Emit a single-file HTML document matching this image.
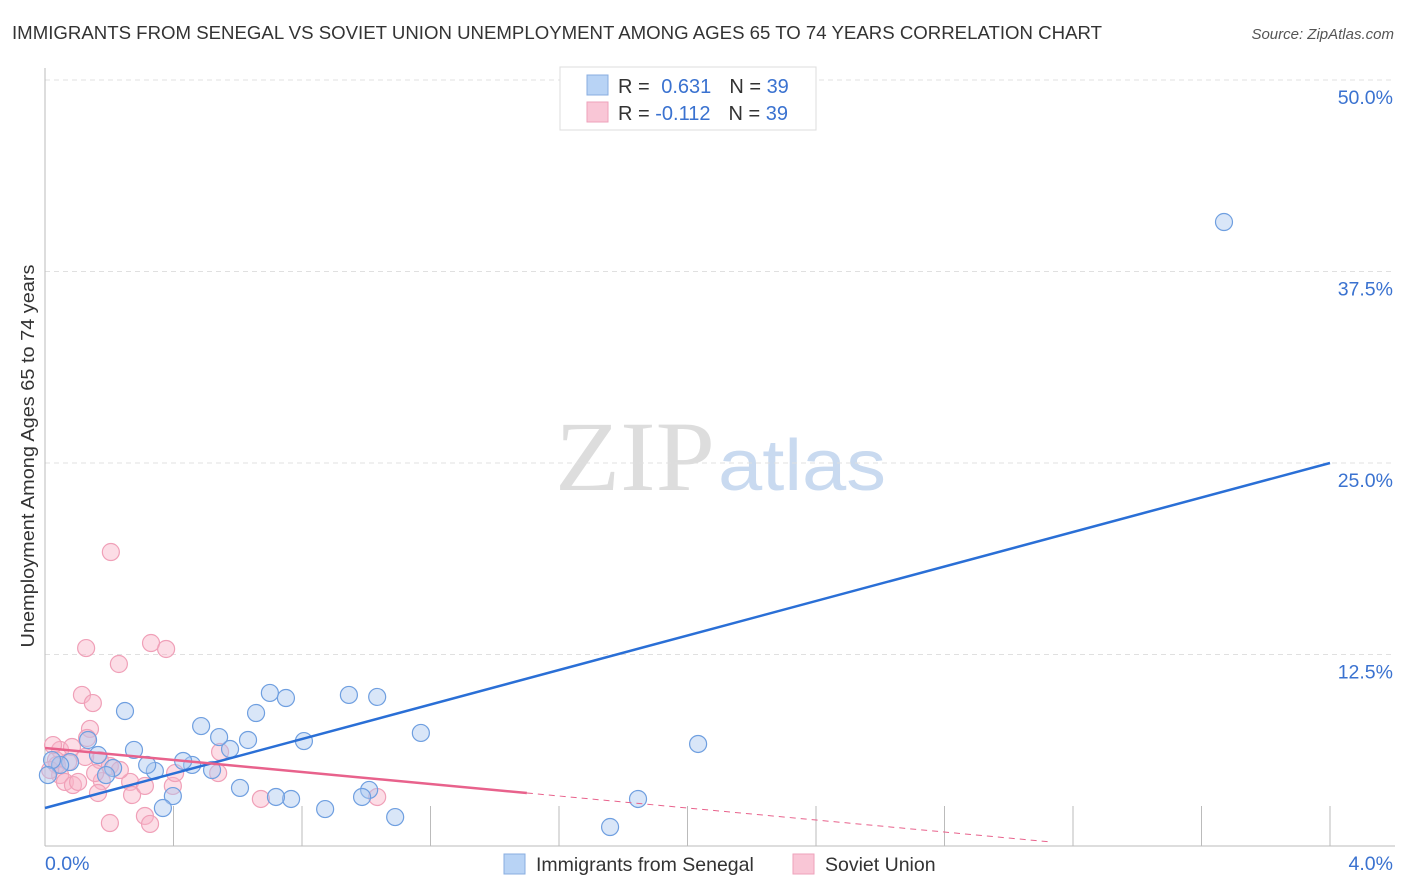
<!DOCTYPE html>
<html><head><meta charset="utf-8"><style>
body{margin:0;background:#fff;font-family:"Liberation Sans",sans-serif;}
svg{display:block}
</style></head><body>
<svg id="chart" width="1406" height="892" xmlns="http://www.w3.org/2000/svg">
<text x="12" y="39" font-size="18" fill="#333" textLength="1090" lengthAdjust="spacingAndGlyphs">IMMIGRANTS FROM SENEGAL VS SOVIET UNION UNEMPLOYMENT AMONG AGES 65 TO 74 YEARS CORRELATION CHART</text>
<text x="1394" y="39" font-size="15" fill="#555" font-style="italic" text-anchor="end">Source: ZipAtlas.com</text>
<text x="555" y="490" font-size="100" font-family="Liberation Serif,serif" fill="#ddd" textLength="160" lengthAdjust="spacingAndGlyphs">ZIP</text>
<text x="718" y="490" font-size="72" fill="#c9daf0" textLength="168" lengthAdjust="spacingAndGlyphs">atlas</text>
<g id="grid"></g><g id="axes"></g><g id="marks"></g>
<text transform="translate(34,456) rotate(-90)" font-size="18" fill="#333" text-anchor="middle" textLength="383" lengthAdjust="spacingAndGlyphs">Unemployment Among Ages 65 to 74 years</text>
<g>
<rect x="560" y="67" width="256" height="63" fill="#fff" stroke="#ddd"/>
<rect x="587" y="75" width="21" height="20" fill="#b8d3f5" stroke="#88aee0"/>
<rect x="587" y="102" width="21" height="20" fill="#f9c6d6" stroke="#eea2bb"/>
<text x="618" y="93" font-size="20" fill="#333">R = <tspan fill="#3a72d0" dx="6">0.631</tspan><tspan dx="18">N = </tspan><tspan fill="#3a72d0">39</tspan></text>
<text x="618" y="120" font-size="20" fill="#333">R = <tspan fill="#3a72d0">-0.112</tspan><tspan dx="18">N = </tspan><tspan fill="#3a72d0">39</tspan></text>
</g>
<g>
<rect x="504" y="854" width="21" height="20" fill="#b8d3f5" stroke="#88aee0"/>
<text x="536" y="871" font-size="19.5" fill="#333">Immigrants from Senegal</text>
<rect x="793" y="854" width="21" height="20" fill="#f9c6d6" stroke="#eea2bb"/>
<text x="825" y="871" font-size="19.5" fill="#333">Soviet Union</text>
</g>
</svg>
<script>
const yTicks=[12.5,25,37.5,50];
const yTickLabels=["12.5%","25.0%","37.5%","50.0%"];
const xTickLabels=["0.0%","4.0%"];
const blueX=[3.670,2.033,1.759,1.846,1.170,1.034,0.946,0.700,0.750,0.806,1.090,1.009,0.987,0.872,0.766,0.719,0.607,0.657,0.632,0.576,0.542,0.520,0.486,0.458,0.430,0.398,0.367,0.342,0.318,0.277,0.249,0.212,0.190,0.165,0.134,0.078,0.047,0.022,0.009];
const blueY=[40.73,6.66,1.24,3.07,7.38,9.73,9.86,9.99,9.66,6.85,1.89,3.66,3.20,2.41,3.07,3.20,3.79,8.68,6.92,6.33,7.11,4.96,7.83,5.29,5.55,3.26,2.48,4.90,5.29,6.27,8.81,5.09,4.63,5.94,6.92,5.48,5.29,5.61,4.63];
const pinkX=[0.205,0.128,0.330,0.377,0.230,0.115,0.149,0.140,0.131,0.047,0.084,0.034,0.072,0.037,0.047,0.062,0.087,0.103,0.171,0.177,0.165,0.202,0.265,0.271,0.311,0.398,0.311,0.327,0.202,0.545,0.539,0.672,1.034,0.405,0.016,0.025,0.156,0.125,0.233];
const pinkY=[19.19,12.92,13.25,12.86,11.88,9.86,9.33,7.64,7.05,6.27,6.46,5.61,5.48,5.29,4.63,4.18,3.98,4.18,5.61,4.24,3.46,5.22,4.18,3.33,3.92,3.92,1.96,1.44,1.50,6.14,4.76,3.07,3.20,4.76,4.96,6.59,4.76,5.81,4.96];
const blueTrend=[2.48,25.0];   // y at x=0, x=4
const pinkTrend=[6.40,-1.96];  // intercept, slope
const NS="http://www.w3.org/2000/svg";
const X=v=>45+v/4*1285, Y=v=>846-v/50*766;
function mk(t,a,p){const e=document.createElementNS(NS,t);for(const k in a)e.setAttribute(k,a[k]);p.appendChild(e);return e;}
const grid=document.getElementById('grid'),axes=document.getElementById('axes'),marks=document.getElementById('marks');
yTicks.forEach((t,i)=>{
 const l=mk('line',{x1:45,x2:1395,y1:Y(t),y2:Y(t),stroke:'#e0e0e0','stroke-dasharray':'5,4'},grid);
 
 
 const tx=mk('text',{x:1393,y:Y(t)+24,'font-size':19.5,fill:'#3a72d0','text-anchor':'end'},grid);
 tx.textContent=yTickLabels[i];
 
 
});
let ax=mk('line',{x1:45,x2:45,y1:68,y2:846,stroke:'#bbb'},axes);


ax=mk('line',{x1:45,x2:1395,y1:846,y2:846,stroke:'#bbb'},axes);


for(let i=1;i<=10;i++){
 const t=mk('line',{x1:X(i*0.4),x2:X(i*0.4),y1:806,y2:846,stroke:'#bbb'},axes);
 
 
}
[[0,'start',45],[1,'end',1393]].forEach(([i,a,x])=>{
 const t=mk('text',{x:x,y:870,'font-size':19.5,fill:'#3a72d0','text-anchor':a},axes);
 t.textContent=xTickLabels[i];
 
 
});
pinkX.forEach((v,i)=>{
 const c=mk('circle',{cx:X(v),cy:Y(pinkY[i]),r:8.5,fill:'rgba(248,180,200,0.45)',stroke:'#f0a0b8','stroke-width':1.2},marks);
 
 
});
blueX.forEach((v,i)=>{
 const c=mk('circle',{cx:X(v),cy:Y(blueY[i]),r:8.5,fill:'rgba(170,200,240,0.45)',stroke:'#6f9fe0','stroke-width':1.2},marks);
 
 
});
let tl=mk('line',{x1:X(0),y1:Y(blueTrend[0]),x2:X(4),y2:Y(blueTrend[1]),stroke:'#2a6fd6','stroke-width':2.5},marks);


const pf=x=>pinkTrend[0]+pinkTrend[1]*x;
tl=mk('line',{x1:X(0),y1:Y(pf(0)),x2:X(1.5),y2:Y(pf(1.5)),stroke:'#e8628c','stroke-width':2.5},marks);


tl=mk('line',{x1:X(1.5),y1:Y(pf(1.5)),x2:X(3.13),y2:Y(pf(3.13)),stroke:'#e8628c','stroke-width':1,'stroke-dasharray':'6,5'},marks);


</script>
</body></html>
